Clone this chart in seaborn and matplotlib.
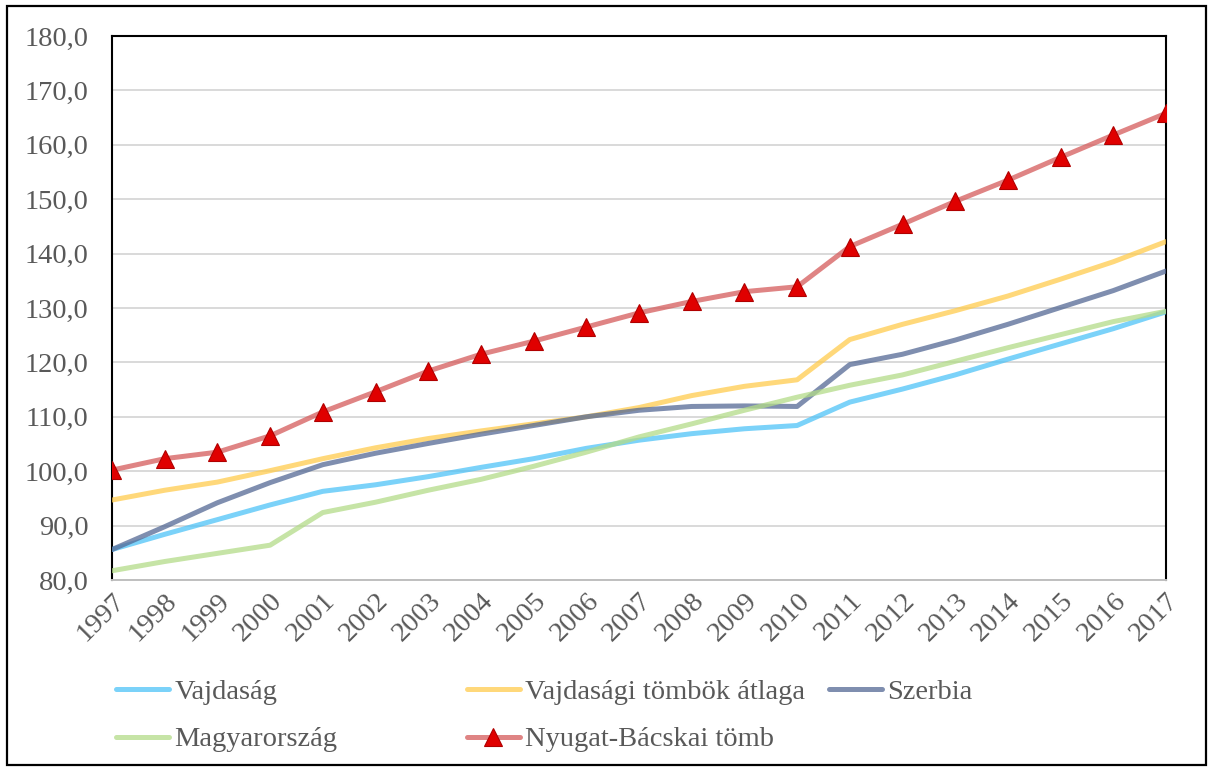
import matplotlib
matplotlib.use("Agg")
import matplotlib.pyplot as plt
import matplotlib.ticker as mticker
from matplotlib.patches import Rectangle
import pandas as pd
import seaborn as sns

# Data
years = list(range(1997, 2018))

vajdasag = [85.6, 88.4, 91.1, 93.8, 96.3, 97.5, 99.0, 100.7, 102.3, 104.2, 105.7,
            106.9, 107.8, 108.4, 112.7, 115.1, 117.7, 120.6, 123.4, 126.2, 129.3]
vajd_tombok = [94.7, 96.5, 98.0, 100.1, 102.3, 104.3, 106.0, 107.4, 108.7, 110.0, 111.7,
               113.9, 115.6, 116.8, 124.2, 127.0, 129.5, 132.2, 135.3, 138.5, 142.2]
szerbia = [85.6, 89.8, 94.2, 97.9, 101.2, 103.3, 105.1, 106.8, 108.4, 110.0, 111.2,
           111.9, 112.0, 111.9, 119.6, 121.5, 124.1, 127.0, 130.1, 133.2, 136.8]
magyarorszag = [81.7, 83.4, 84.9, 86.4, 92.4, 94.3, 96.5, 98.5, 100.9, 103.5, 106.3,
                108.7, 111.2, 113.6, 115.8, 117.7, 120.2, 122.7, 125.1, 127.5, 129.4]
nyugat_bacskai = [100.2, 102.3, 103.5, 106.5, 110.9, 114.6, 118.4, 121.5, 123.9, 126.5, 129.1,
                  131.2, 133.0, 133.9, 141.3, 145.4, 149.6, 153.5, 157.7, 161.8, 165.8]

labels = ["Vajdaság", "Vajdasági tömbök átlaga", "Szerbia", "Magyarország", "Nyugat-Bácskai tömb"]
series = [vajdasag, vajd_tombok, szerbia, magyarorszag, nyugat_bacskai]
colors = ["#4fc3f7", "#ffcc4d", "#546995", "#b3db88", "#d55b5b"]

sns.set_style("white")
plt.rcParams["font.family"] = ["Liberation Serif", "DejaVu Serif"]

FS = 20.5
fig = plt.figure(figsize=(12.13, 7.71), dpi=100)
ax = fig.add_axes([112 / 1213, 1 - 580 / 771, (1166 - 112) / 1213, (580 - 36) / 771])

handles = {}
for lab, vals, col in zip(labels, series, colors):
    df = pd.DataFrame({"year": years, "value": vals})
    sns.lineplot(data=df, x="year", y="value", ax=ax, color=col, alpha=0.75,
                 linewidth=3.6, zorder=3)
    line = ax.lines[-1]
    if lab == "Nyugat-Bácskai tömb":
        # opaque triangle markers on top of the semi-transparent line
        sns.lineplot(data=df, x="year", y="value", ax=ax, linestyle="none",
                     marker="^", markersize=13, markerfacecolor="#e00000",
                     markeredgecolor="#b00000", markeredgewidth=0.8, zorder=5)
        handles[lab] = (line, ax.lines[-1])
    else:
        handles[lab] = line

ax.set_xlim(1997, 2017)
ax.set_ylim(80, 180)
ax.set_xticks(years)
ax.set_yticks(range(80, 181, 10))
ax.yaxis.set_major_formatter(mticker.FuncFormatter(lambda v, p: f"{v:.1f}".replace(".", ",")))
ax.set_xlabel("")
ax.set_ylabel("")
ax.grid(axis="y", color="#d9d9d9", linewidth=1.4)
ax.set_axisbelow(True)

for side in ["left", "top", "right"]:
    ax.spines[side].set_color("black")
    ax.spines[side].set_linewidth(1.5)
ax.spines["bottom"].set_color("#bfbfbf")
ax.spines["bottom"].set_linewidth(1.4)

ax.tick_params(axis="y", length=0, pad=17, labelsize=FS, labelcolor="#595959")
ax.tick_params(axis="x", length=0, pad=6, labelsize=FS, labelcolor="#595959")
for t in ax.get_xticklabels():
    t.set_rotation(45)
    t.set_ha("right")
    t.set_va("top")
    t.set_rotation_mode("anchor")

# Legend laid out as in the source: three columns placed by hand
legend_cols = [(["Vajdaság", "Magyarország"], 116),
               (["Vajdasági tömbök átlaga", "Nyugat-Bácskai tömb"], 467),
               (["Szerbia"], 829)]
for names, xpix in legend_cols:
    leg = fig.legend([handles[n] for n in names], names,
                     loc="upper left", bbox_to_anchor=(xpix / 1213, 1 - 679 / 771),
                     frameon=False, fontsize=FS, handlelength=1.85, handletextpad=0.2,
                     labelspacing=0.76, borderpad=0, borderaxespad=0)
    for txt in leg.get_texts():
        txt.set_color("#595959")

# Outer frame of the chart
fig.patches.append(Rectangle((7 / 1213, 6 / 771), 1199 / 1213, 759 / 771,
                             transform=fig.transFigure, fill=False,
                             edgecolor="black", linewidth=1.6))

fig.savefig("out.png", dpi=100)
